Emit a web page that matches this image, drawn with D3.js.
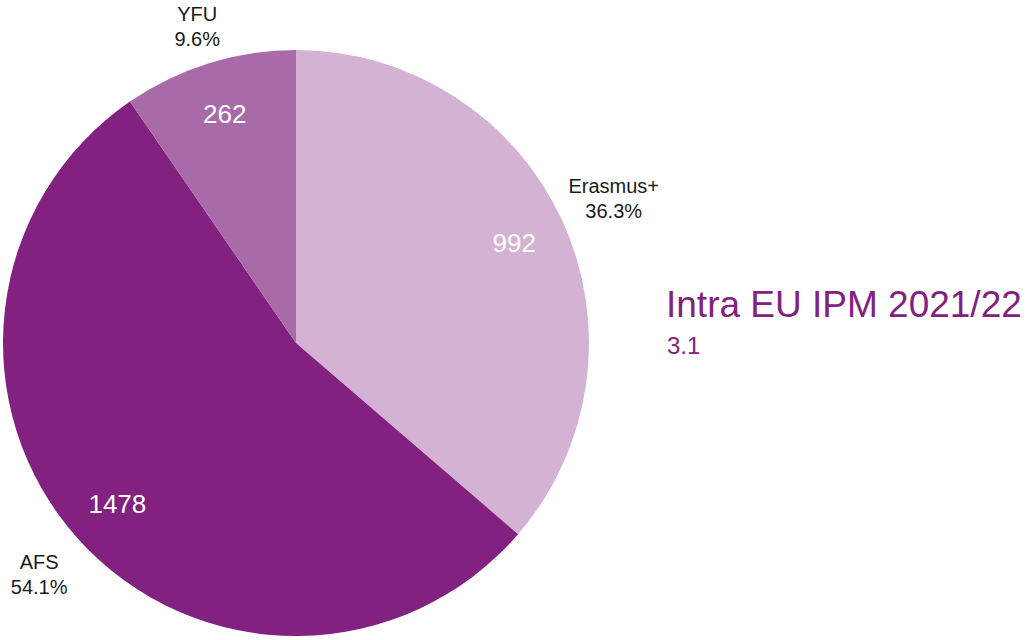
<!DOCTYPE html>
<html>
<head>
<meta charset="utf-8">
<style>
  body { margin: 0; background: #fff; }
  text { font-family: "Liberation Sans", "Arial", sans-serif; }
</style>
</head>
<body>
<svg width="1029" height="640"></svg>
<script src="https://cdnjs.cloudflare.com/ajax/libs/d3/7.8.5/d3.min.js"></script>
<script>
// data
var programs = ["Erasmus+", "AFS", "YFU"];
var counts = [992, 1478, 262];
var colours = ["#d4b2d4", "#82217f", "#a86ba8"];
var title = "Intra EU IPM 2021/22";
var subtitle = "3.1";

var svg = d3.select("svg"),
    cx = 296, cy = 343, r = 293;

var total = d3.sum(counts);
var data = programs.map(function(p, i) {
  return { name: p, value: counts[i], colour: colours[i] };
});

var pie = d3.pie().sort(null).value(function(d) { return d.value; });
var arc = d3.arc().innerRadius(0).outerRadius(r);

var g = svg.append("g").attr("transform", "translate(" + cx + "," + cy + ")");
var arcs = pie(data);

// point at radius rad along the middle angle of a slice
function polar(d, rad) {
  var a = (d.startAngle + d.endAngle) / 2;
  return [rad * Math.sin(a), -rad * Math.cos(a)];
}
// outside labels sit further out when they are to the side (wider text)
function outRadius(d) {
  var a = (d.startAngle + d.endAngle) / 2;
  return r + 32 + 27 * Math.abs(Math.sin(a));
}

g.selectAll("path.slice")
  .data(arcs)
  .enter().append("path")
    .attr("class", "slice")
    .attr("fill", function(d) { return d.data.colour; })
    .attr("d", arc);

// values inside
g.selectAll("text.val")
  .data(arcs)
  .enter().append("text")
    .attr("class", "val")
    .attr("transform", function(d) { return "translate(" + polar(d, 240) + ")"; })
    .attr("text-anchor", "middle")
    .attr("dy", "0.36em")
    .style("font-size", "26px")
    .style("fill", "#fff")
    .text(function(d) { return d.data.value; });

// names + percentages outside
var outer = g.selectAll("g.out")
  .data(arcs)
  .enter().append("g")
    .attr("class", "out")
    .attr("transform", function(d) { return "translate(" + polar(d, outRadius(d)) + ")"; });

outer.append("text")
    .attr("text-anchor", "middle")
    .attr("y", -4)
    .style("font-size", "20px")
    .style("fill", "#1a1a1a")
    .text(function(d) { return d.data.name; });

outer.append("text")
    .attr("text-anchor", "middle")
    .attr("y", 21)
    .style("font-size", "20px")
    .style("fill", "#1a1a1a")
    .text(function(d) { return d3.format(".1f")(d.value / total * 100) + "%"; });

// title
svg.append("text")
    .attr("x", 666)
    .attr("y", 317)
    .style("font-size", "37px")
    .style("fill", "#82217f")
    .text(title);

svg.append("text")
    .attr("x", 667)
    .attr("y", 354)
    .style("font-size", "24px")
    .style("fill", "#82217f")
    .text(subtitle);
</script>
</body>
</html>
